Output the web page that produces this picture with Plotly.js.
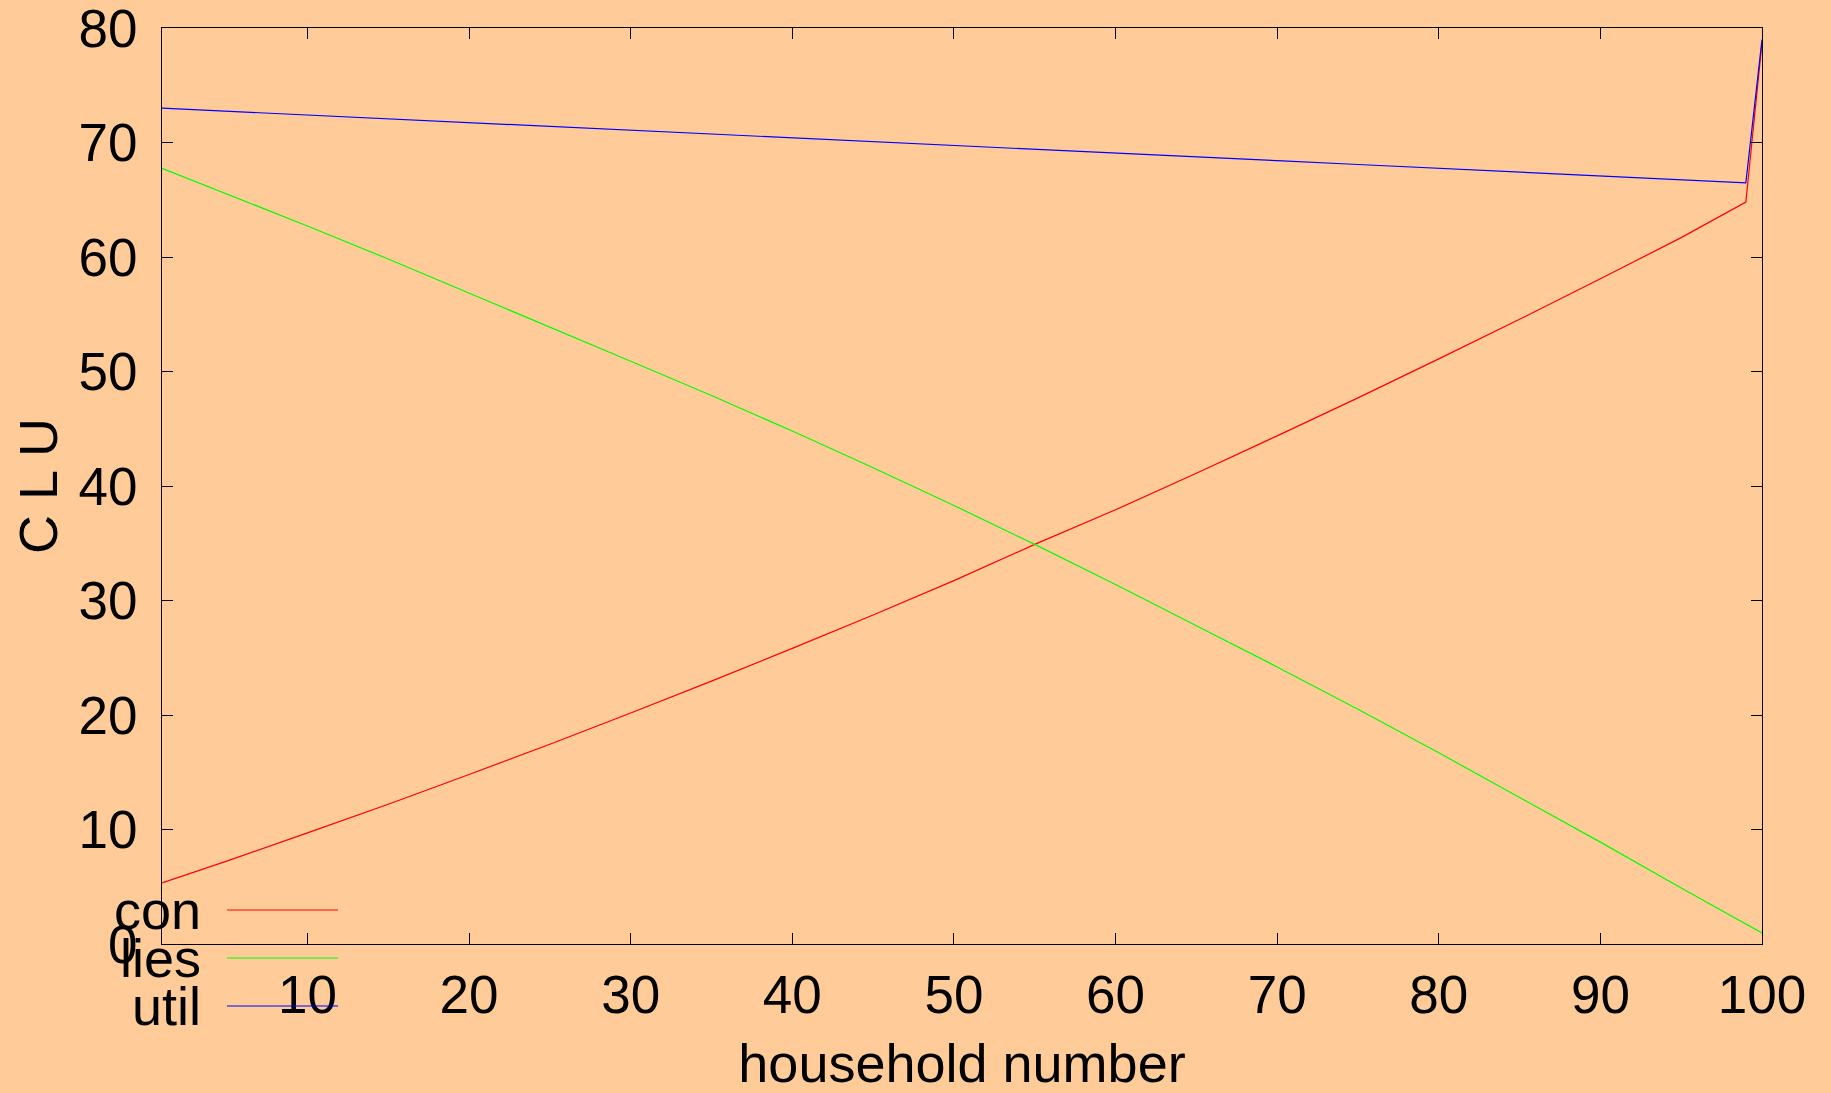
<!DOCTYPE html>
<html>
<head>
<meta charset="utf-8">
<script src="https://cdn.plot.ly/plotly-3.0.1.min.js"></script>
<style>
  html, body { margin: 0; padding: 0; background: #ffcc99; }
  #chart { width: 1831px; height: 1093px; }
</style>
</head>
<body>
<div id="chart"></div>
<script>
// household numbers (x)
var household = [1, 5, 10, 15, 20, 25, 30, 35, 40, 45, 50, 55, 60, 65, 70, 75, 80, 85, 90, 95, 99, 100];
// series values
var con  = [5.33, 7.24, 9.70, 12.21, 14.80, 17.45, 20.18, 22.96, 25.82, 28.74, 31.74, 34.9, 37.92, 41.11, 44.38, 47.70, 51.10, 54.56, 58.10, 61.69, 64.8, 78.7];
var lies = [67.75, 65.54, 62.71, 59.82, 56.86, 53.83, 50.9, 47.9, 44.8, 41.6, 38.3, 34.9, 31.4, 27.8, 24.2, 20.5, 16.7, 12.8, 8.9, 4.9, 1.7, 0.96];
var util = [73.00, 72.73, 72.40, 72.07, 71.74, 71.40, 71.07, 70.74, 70.41, 70.07, 69.74, 69.41, 69.08, 68.74, 68.41, 68.08, 67.75, 67.41, 67.08, 66.75, 66.48, 79.0];

var seriesNames  = ['con', 'lies', 'util'];
var seriesColors = ['#ff0000', '#00ff00', '#0000ff'];
var seriesData   = [con, lies, util];

var xTicks = [10, 20, 30, 40, 50, 60, 70, 80, 90, 100];
var yTicks = [0, 10, 20, 30, 40, 50, 60, 70, 80];

var FONT = 'Liberation Sans, Arial, Helvetica, sans-serif';
var FS_TICK = 53;
var FS_TEXT = 54;

var traces = seriesData.map(function (vals, i) {
  return {
    x: household, y: vals, type: 'scatter', mode: 'lines',
    name: seriesNames[i],
    line: { color: seriesColors[i], width: 1.2 },
    showlegend: false
  };
});

// plot area in pixels
var L = 162, R = 1762, T = 28, B = 944;
var W = 1831, H = 1093;
function px2paperX(px) { return (px - L) / (R - L); }
function px2paperY(py) { return (B - py) / (B - T); }

// gnuplot-style key: label text then sample line, bottom left
var keyRows = [910, 958, 1006];
var annotations = [], shapes = [];
seriesNames.forEach(function (nm, i) {
  annotations.push({
    xref: 'paper', yref: 'paper',
    x: px2paperX(203), y: px2paperY(keyRows[i]),
    xanchor: 'right', yanchor: 'middle',
    text: nm, showarrow: false,
    font: { family: FONT, size: FS_TEXT, color: '#000' }
  });
  shapes.push({
    type: 'line', xref: 'paper', yref: 'paper',
    x0: px2paperX(227), x1: px2paperX(338),
    y0: px2paperY(keyRows[i]), y1: px2paperY(keyRows[i]),
    line: { color: seriesColors[i], width: 1.2 }
  });
});

var axisCommon = {
  showline: true, linecolor: '#000', linewidth: 1,
  mirror: 'ticks', ticks: 'inside', ticklen: 11, tickcolor: '#000', tickwidth: 1,
  showgrid: false, zeroline: false,
  tickfont: { family: FONT, size: FS_TICK, color: '#000' },
  ticklabeloverflow: 'allow',
  automargin: false
};

var layout = {
  width: W, height: H,
  paper_bgcolor: '#ffcc99', plot_bgcolor: '#ffcc99',
  margin: { l: L, r: W - R, t: T, b: H - B, pad: 0 },
  showlegend: false,
  xaxis: Object.assign({}, axisCommon, {
    range: [1, 100], tickmode: 'array', tickvals: xTicks, ticktext: xTicks.map(String),
    ticklabelstandoff: 4,
    title: { text: 'household number', font: { family: FONT, size: FS_TEXT, color: '#000' }, standoff: 28 }
  }),
  yaxis: Object.assign({}, axisCommon, {
    range: [0, 80], tickmode: 'array', tickvals: yTicks, ticktext: yTicks.map(String),
    ticklabelstandoff: 13,
    title: { text: 'C L U', font: { family: FONT, size: FS_TEXT, color: '#000' }, standoff: 3 }
  }),
  annotations: annotations,
  shapes: shapes
};

Plotly.newPlot('chart', traces, layout, { displayModeBar: false, staticPlot: true });
</script>
</body>
</html>
